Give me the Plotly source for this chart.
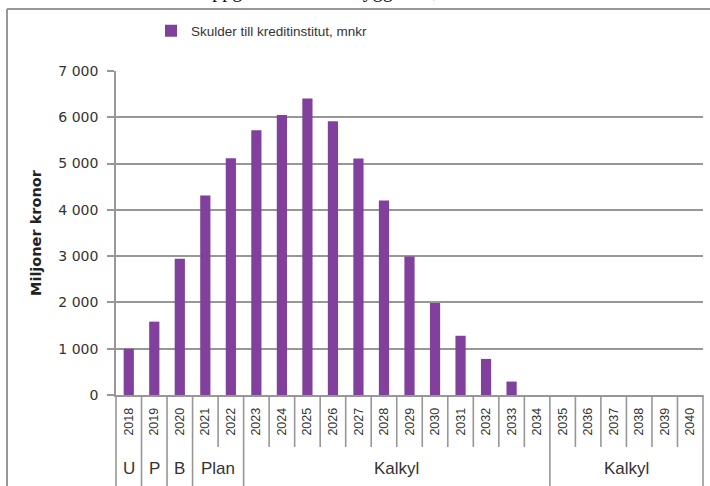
import plotly.graph_objects as go

# ---- data ----
years = ["2018", "2019", "2020", "2021", "2022", "2023", "2024", "2025", "2026", "2027",
         "2028", "2029", "2030", "2031", "2032", "2033", "2034", "2035", "2036", "2037",
         "2038", "2039", "2040"]
debt = [1000, 1585, 2945, 4310, 5115, 5720, 6050, 6405, 5915, 5110,
        4200, 2990, 1990, 1280, 780, 290, 0, 0, 0, 0,
        0, 0, 0]
groups = ["U", "P", "B", "Plan", "Kalkyl", "Kalkyl"]
group_sizes = [1, 1, 1, 2, 12, 6]
y_tickvals = [0, 1000, 2000, 3000, 4000, 5000, 6000, 7000]
y_ticktext = ["0", "1 000", "2 000", "3 000", "4 000", "5 000", "6 000", "7 000"]
series_name = "Skulder till kreditinstitut, mnkr"
y_title = "Miljoner kronor"
cut_title = "Skulderna beräknas uppgå totalt under byggtiden, mnkr"

# ---- layout geometry ----
W, H = 710, 486
L, R, T, B = 116, 7, 71, 91
PW, PH = W - L - R, H - T - B
n = len(years)

def px(x):
    return (x - L) / PW

def py(y):
    return (H - B - y) / PH

GRAY = "#979797"
PURPLE = "#80409c"
SANS = "Liberation Sans, Arial, sans-serif"

fig = go.Figure()
fig.add_trace(go.Bar(
    x=years, y=debt, name=series_name,
    marker=dict(color=PURPLE, line=dict(width=0)),
    showlegend=True,
))

shapes = []
# outer frame (left and top edges)
shapes.append(dict(type="line", xref="paper", yref="paper", x0=px(7), x1=px(7),
                   y0=py(9), y1=py(495), line=dict(color=GRAY, width=2)))
shapes.append(dict(type="line", xref="paper", yref="paper", x0=px(7), x1=px(720),
                   y0=py(9), y1=py(9), line=dict(color=GRAY, width=2)))

# category dividers
long_bounds = {0}
acc = 0
for s in group_sizes:
    acc += s
    long_bounds.add(acc)
for k in range(n + 1):
    bottom = 495 if k in long_bounds else 447
    shapes.append(dict(type="line", xref="paper", yref="paper", x0=k / n, x1=k / n,
                       y0=0, y1=py(bottom), line=dict(color=GRAY, width=1.6)))

annotations = []
# group labels
start = 0
for g, s in zip(groups, group_sizes):
    center = start + (s - 1) / 2
    annotations.append(dict(x=center, xref="x", y=py(469), yref="paper", text=g,
                            showarrow=False, xanchor="center", yanchor="middle",
                            font=dict(family=SANS, size=17, color="#333333")))
    start += s

# y axis title
annotations.append(dict(x=px(36), xref="paper", y=0.5, yref="paper", text=y_title,
                        textangle=-90, showarrow=False, xanchor="center", yanchor="middle",
                        font=dict(family="DejaVu Sans, sans-serif", size=14.5, color="#222222",
                                  weight="bold")))
# title cut off at top of image
annotations.append(dict(x=px(38), xref="paper", y=py(3.5), yref="paper", text=cut_title,
                        showarrow=False, xanchor="left", yanchor="bottom",
                        font=dict(family="Liberation Serif, Times New Roman, serif", size=20,
                                  color="#111111")))

fig.update_layout(
    width=W, height=H,
    margin=dict(l=L, r=R, t=T, b=B, pad=0),
    paper_bgcolor="white", plot_bgcolor="white",
    bargap=0.6,
    showlegend=True,
    legend=dict(orientation="h", x=px(151), y=py(31), xanchor="left", yanchor="middle",
                font=dict(family=SANS, size=13.5, color="#333333"),
                bgcolor="rgba(0,0,0,0)", itemwidth=30),
    xaxis=dict(type="category", range=[-0.5, n - 0.5], tickangle=-90, ticks="",
               showline=True, linecolor=GRAY, linewidth=1.6, showgrid=False,
               tickfont=dict(family=SANS, size=12.5, color="#333333"),
               ticklabelstandoff=6),
    yaxis=dict(range=[0, 7000], tickvals=y_tickvals, ticktext=y_ticktext,
               showgrid=True, gridcolor=GRAY, gridwidth=1.6, zeroline=False,
               showline=True, linecolor=GRAY, linewidth=1.6,
               ticks="outside", ticklen=7, tickcolor=GRAY, tickwidth=1.6,
               tickfont=dict(family="DejaVu Sans, sans-serif", size=14, color="#333333"),
               ticklabelstandoff=6),
    shapes=shapes,
    annotations=annotations,
)

fig.write_html("out.html", config={"displayModeBar": False},
               post_script="document.body.style.margin='0';")
